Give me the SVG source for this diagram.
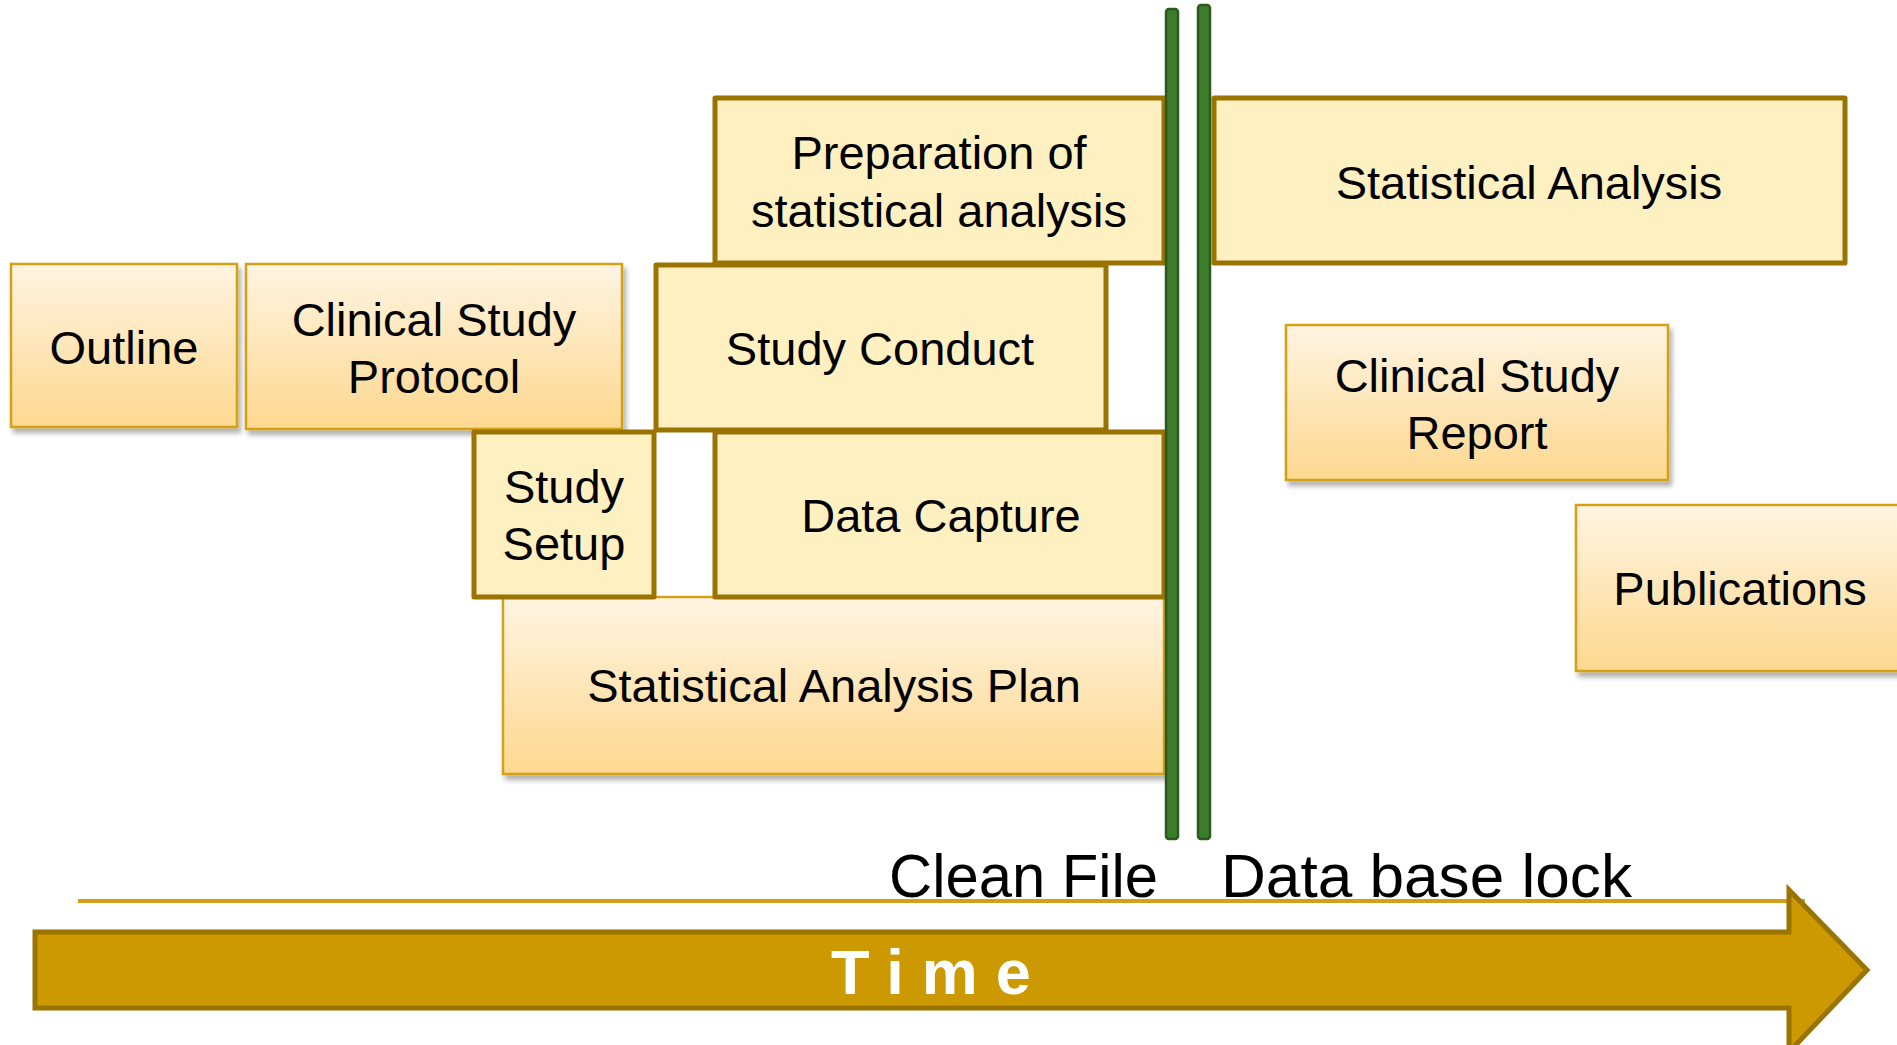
<svg xmlns="http://www.w3.org/2000/svg" width="1897" height="1045" viewBox="0 0 1897 1045">
<style>
  .g { fill: url(#grad); stroke: #d4a017; stroke-width: 2.5; filter: url(#sh); }
  .p { fill: #fff0c2; stroke: #9a7300; stroke-width: 5; stroke-linejoin: round; }
  .t { font-family: "Liberation Sans", Arial, sans-serif; font-size: 47px; fill: #000; text-anchor: middle; }
  .lbl { font-family: "Liberation Sans", Arial, sans-serif; font-size: 62px; fill: #000; }
  .gl { fill: #3b7d2a; stroke: #2c5a1d; stroke-width: 2.5; }
</style>
<defs>
  <linearGradient id="grad" x1="0" y1="0" x2="0" y2="1">
    <stop offset="0" stop-color="#fff4e2"/>
    <stop offset="1" stop-color="#fdd88f"/>
  </linearGradient>
  <filter id="sh" x="-5%" y="-5%" width="115%" height="120%">
    <feDropShadow dx="3" dy="5" stdDeviation="2.5" flood-color="#000" flood-opacity="0.3"/>
  </filter>
</defs>
<rect width="1897" height="1045" fill="#fff"/>

<g id="outline"><rect class="g" x="11" y="264" width="226" height="163"/><text class="t" x="124" y="364">Outline</text></g>
<g id="protocol"><rect class="g" x="246" y="264" width="376" height="165"/><text class="t" x="434" y="336">Clinical Study</text><text class="t" x="434" y="393">Protocol</text></g>
<g id="sap"><rect class="g" x="503" y="597" width="661" height="177"/><text class="t" x="834" y="702">Statistical Analysis Plan</text></g>
<g id="csr"><rect class="g" x="1286" y="325" width="382" height="155"/><text class="t" x="1477" y="392">Clinical Study</text><text class="t" x="1477" y="449">Report</text></g>
<g id="publications"><rect class="g" x="1576" y="505" width="330" height="166"/><text class="t" x="1740" y="605">Publications</text></g>

<g id="prep"><rect class="p" x="715" y="98" width="449" height="165"/><text class="t" x="939" y="169">Preparation of</text><text class="t" x="939" y="227">statistical analysis</text></g>
<g id="conduct"><rect class="p" x="656" y="265" width="450" height="165"/><text class="t" x="880" y="365">Study Conduct</text></g>
<g id="setup"><rect class="p" x="474" y="432" width="180" height="165"/><text class="t" x="564" y="503">Study</text><text class="t" x="564" y="560">Setup</text></g>
<g id="capture"><rect class="p" x="715" y="432" width="449" height="165"/><text class="t" x="941" y="532">Data Capture</text></g>
<g id="stat-analysis"><rect class="p" x="1214" y="98" width="631" height="165"/><text class="t" x="1529" y="199">Statistical Analysis</text></g>

<g id="connectors">
  <rect class="gl" x="1166" y="9" width="12" height="830" rx="3"/>
  <rect class="gl" x="1198" y="5" width="12" height="834" rx="3"/>
  <line x1="78" y1="901" x2="1805" y2="901" stroke="#d4a017" stroke-width="4"/>
</g>

<g id="clean-file"><text class="lbl" x="889" y="897" textLength="269" lengthAdjust="spacingAndGlyphs">Clean File</text></g>
<g id="db-lock"><text class="lbl" x="1221" y="897" textLength="411" lengthAdjust="spacingAndGlyphs">Data base lock</text></g>

<g id="time-arrow">
  <path d="M35 932 H1789 V890 L1867 970 L1789 1052 V1008 H35 Z" fill="#cc9900" stroke="#9a7300" stroke-width="5" stroke-linejoin="miter"/>
  <text x="831" y="994" font-family="Liberation Sans, Arial, sans-serif" font-size="63" font-weight="bold" fill="#fff" letter-spacing="18">Time</text>
</g>
</svg>
